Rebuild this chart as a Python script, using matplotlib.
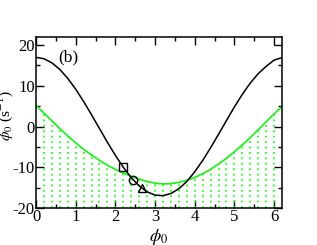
import numpy as np
import matplotlib
matplotlib.use('Agg')
import matplotlib.pyplot as plt
from matplotlib.ticker import MultipleLocator

plt.rcParams['font.family'] = ['Liberation Serif', 'DejaVu Serif']
plt.rcParams['mathtext.fontset'] = 'stix'
plt.rcParams['axes.unicode_minus'] = False

# sampled phase values
phi = [0.0, 0.2, 0.4, 0.6, 0.8, 1.0, 1.2, 1.4, 1.6, 1.8, 2.0, 2.2, 2.4, 2.6, 2.8, 3.0,
       3.2, 3.4, 3.6, 3.8, 4.0, 4.2, 4.4, 4.6, 4.8, 5.0, 5.2, 5.4, 5.6, 5.8, 6.0, 6.2]
# black curve
black = [17.0, 16.66, 15.66, 14.03, 11.84, 9.19, 6.16, 2.89, -0.49, -3.86, -7.07, -10.0,
         -12.54, -14.58, -16.04, -16.83, -16.97, -16.44, -15.27, -13.50, -11.11, -8.34,
         -5.20, -1.90, 1.49, 4.82, 7.92, 10.68, 13.00, 14.79, 16.32, 16.93]
# green boundary curve
green = [5.2, 3.3, 1.4, -0.5, -2.3, -4.0, -5.6, -7.0, -8.3, -9.5, -10.5, -11.4, -12.2,
         -12.9, -13.5, -13.9, -14.1, -14.0, -13.7, -13.2, -12.5, -11.6, -10.5, -9.2,
         -7.8, -6.2, -4.5, -2.7, -0.8, 1.2, 3.1, 4.9]
# marked points
pts_x = [2.2, 2.45, 2.68]
pts_y = [-10.0, -13.0, -15.2]
pts_m = ['s', 'o', '^']

fig = plt.figure(figsize=(3.17, 2.45), dpi=100)
ax = fig.add_axes([0.1136, 0.151, 0.776, 0.698])

# dotted hatch under the green curve
ax.vlines(phi[1:-1], -20, green[1:-1], colors='#22ff22', linestyles=(0, (1, 2)), lw=1.3)
ax.plot(phi, green, color='#22ee22', lw=1.3)
ax.plot(phi, black, color='black', lw=1.1)
for x, y, m in zip(pts_x, pts_y, pts_m):
    ax.plot([x], [y], marker=m, markersize=6, markerfacecolor='none',
            markeredgecolor='black', markeredgewidth=1.0, linestyle='none')

ax.set_xlim(0, 6.2)
ax.set_ylim(-20, 22)
ax.xaxis.set_major_locator(MultipleLocator(1))
ax.xaxis.set_minor_locator(MultipleLocator(0.5))
ax.yaxis.set_major_locator(MultipleLocator(10))
ax.yaxis.set_minor_locator(MultipleLocator(5))
ax.tick_params(which='both', direction='in', top=True, right=True, labelsize=12, width=1)
ax.tick_params(which='major', length=6, pad=1)
ax.tick_params(which='minor', length=3)
for s in ax.spines.values():
    s.set_linewidth(1.1)

ax.text(0.55, 16.0, '(b)', fontsize=12.5)
ax.set_xlabel(r'$\phi_0$', fontsize=13)
ax.xaxis.set_label_coords(0.5, -0.11)
ax.set_ylabel(r'$\dot{\phi}_0$ (s$^{-1}$)', fontsize=11)
ax.yaxis.set_label_coords(-0.085, 0.54)

fig.savefig('out.png', dpi=100)
